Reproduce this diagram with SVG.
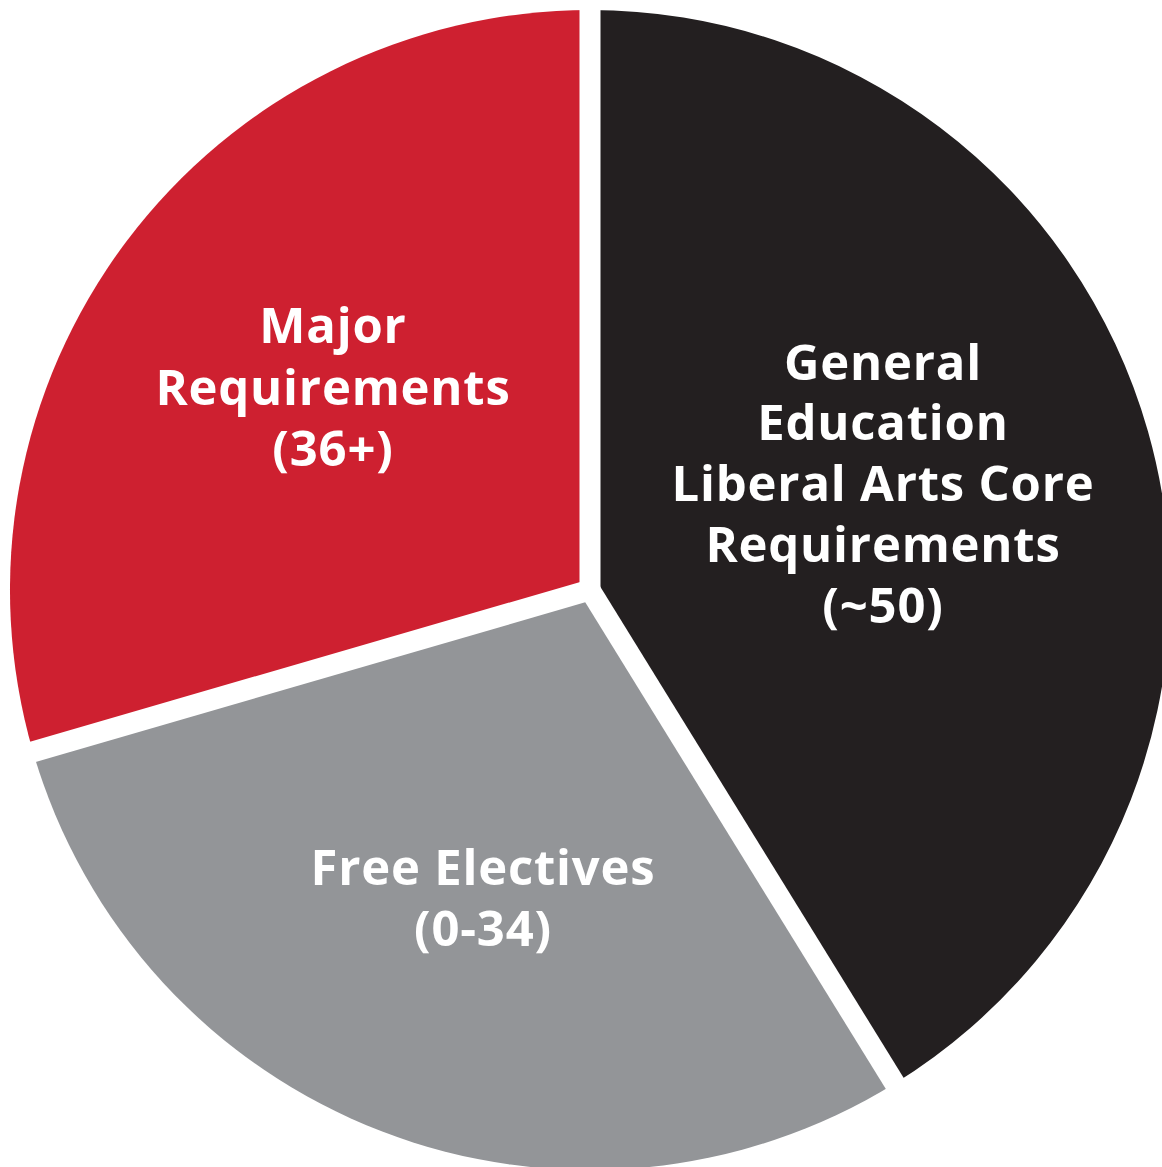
<svg xmlns="http://www.w3.org/2000/svg" width="1162" height="1167" viewBox="0 0 1162 1167">
<style>
.lbl{font-family:"Open Sans","Noto Sans","Liberation Sans",sans-serif;font-weight:700;font-size:49px;letter-spacing:0.8px;fill:#ffffff;text-anchor:middle}
.sep{stroke:#ffffff;stroke-width:21;fill:none}
</style>
<rect width="1162" height="1167" fill="#ffffff"/>
<g id="slice-major">
<path d="M590,590 L33,751.8 A580,580 0 0 1 590,10 Z" fill="#CE2030"/>
<text class="lbl" x="333" y="343">Major</text>
<text class="lbl" x="333" y="405">Requirements</text>
<text class="lbl" x="333" y="466">(36+)</text>
</g>
<g id="slice-gened">
<path d="M590,590 L590,10 A580,580 0 0 1 894.8,1083.5 Z" fill="#231F20"/>
<text class="lbl" x="883" y="380">General</text>
<text class="lbl" x="883" y="440">Education</text>
<text class="lbl" x="883" y="501">Liberal Arts Core</text>
<text class="lbl" x="883" y="562">Requirements</text>
<text class="lbl" x="883" y="623">(~50)</text>
</g>
<g id="slice-electives">
<path d="M590,590 L894.8,1083.5 A580,580 0 0 1 33,751.8 Z" fill="#939598"/>
<text class="lbl" x="483" y="885">Free Electives</text>
<text class="lbl" x="483" y="946">(0-34)</text>
</g>
<g id="separators">
<line class="sep" x1="590" y1="590" x2="590" y2="-20"/>
<line class="sep" x1="590" y1="590" x2="-5.4" y2="763"/>
<line class="sep" x1="590" y1="590" x2="915.8" y2="1117.5"/>
</g>
</svg>
